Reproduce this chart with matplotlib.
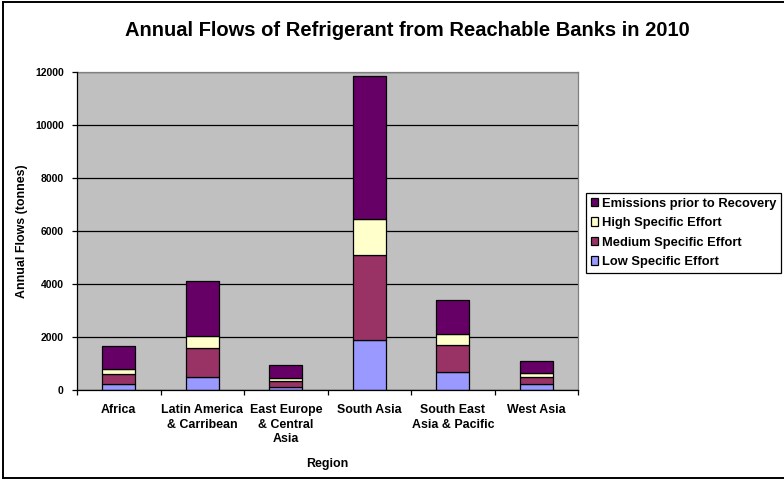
import matplotlib
matplotlib.use("Agg")
import matplotlib.pyplot as plt
from matplotlib.lines import Line2D
import numpy as np

regions = ["Africa", "Latin America\n& Carribean", "East Europe\n& Central\nAsia",
           "South Asia", "South East\nAsia & Pacific", "West Asia"]
low_effort = [220, 500, 100, 1890, 690, 210]
medium_effort = [380, 1070, 250, 3200, 1010, 290]
high_effort = [180, 455, 115, 1360, 430, 125]
emissions_prior = [880, 2090, 480, 5400, 1260, 470]

series_names = ["Low Specific Effort", "Medium Specific Effort",
                "High Specific Effort", "Emissions prior to Recovery"]
series_colors = ["#9999FF", "#993366", "#FFFFCC", "#660066"]
y_ticks = [0, 2000, 4000, 6000, 8000, 10000, 12000]

plt.rcParams["font.family"] = ["Liberation Sans", "DejaVu Sans"]
plt.rcParams["font.weight"] = "bold"

W, H = 784, 480
fig = plt.figure(figsize=(W / 100, H / 100), dpi=100)
ax = fig.add_axes([77 / W, 1 - 390 / H, (578 - 77) / W, (390 - 72) / H])
ax.set_facecolor("#C0C0C0")

x = np.arange(len(regions))
bottom = np.zeros(len(regions))
handles = []
for vals, name, col in zip([low_effort, medium_effort, high_effort, emissions_prior],
                           series_names, series_colors):
    b = ax.bar(x, vals, width=0.4, bottom=bottom, color=col, edgecolor="black",
               linewidth=0.9, label=name, zorder=3)
    handles.append(b)
    bottom += np.array(vals)

ax.set_xlim(-0.5, len(regions) - 0.5)
ax.set_ylim(0, 12000)
ax.set_yticks(y_ticks)
ax.set_yticklabels([str(v) for v in y_ticks], fontsize=7.5, fontweight="bold")
ax.yaxis.grid(True, color="black", linewidth=0.9, zorder=1)
ax.set_axisbelow(True)

ax.set_xticks(x)
ax.set_xticklabels(regions, fontsize=8.9, fontweight="bold", linespacing=1.3)
ax.set_xticks(np.arange(len(regions) + 1) - 0.5, minor=True)
ax.tick_params(axis="x", which="major", length=0, pad=10)
ax.tick_params(axis="x", which="minor", length=3.5, width=0.9, color="black", direction="out")
ax.tick_params(axis="y", length=3.5, width=0.9, color="black", direction="out", pad=6)

for side in ["top", "right"]:
    ax.spines[side].set_color("#808080")
    ax.spines[side].set_linewidth(0.9)
for side in ["left", "bottom"]:
    ax.spines[side].set_color("black")
    ax.spines[side].set_linewidth(0.9)
    ax.spines[side].set_zorder(4)

ax.set_xlabel("Region", fontsize=8.9, fontweight="bold", labelpad=9)
ax.set_ylabel("Annual Flows (tonnes)", fontsize=8.9, fontweight="bold", labelpad=5)

fig.text(0.52, 1 - 30 / H, "Annual Flows of Refrigerant from Reachable Banks in 2010",
         ha="center", va="center", fontsize=14.5, fontweight="bold")

leg = fig.legend(handles[::-1], series_names[::-1], loc="upper left",
                 bbox_to_anchor=(586 / W, 1 - 193 / H), fancybox=False,
                 edgecolor="black", framealpha=1, fontsize=9.3, handlelength=0.6,
                 handleheight=0.6, handletextpad=0.3, labelspacing=0.58,
                 borderpad=0.35, borderaxespad=0)
leg.get_frame().set_linewidth(0.9)
for t in leg.get_texts():
    t.set_fontweight("bold")

# outer chart border
fig.add_artist(Line2D([3 / W, 3 / W], [2 / H, 1 - 2 / H], color="black", linewidth=1.4,
                      transform=fig.transFigure))
fig.add_artist(Line2D([3 / W, 1.01], [1 - 2 / H, 1 - 2 / H], color="black", linewidth=1.4,
                      transform=fig.transFigure))
fig.add_artist(Line2D([3 / W, 1.01], [2 / H, 2 / H], color="black", linewidth=1.4,
                      transform=fig.transFigure))

fig.savefig("out.png", dpi=100)
